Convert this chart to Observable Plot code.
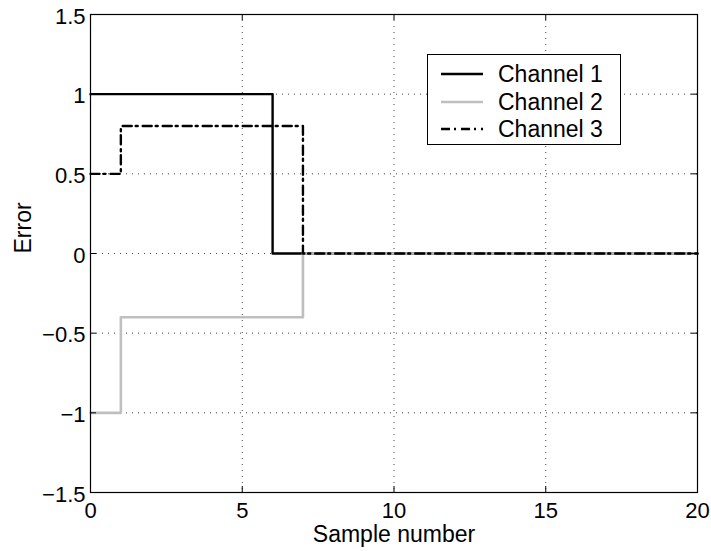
<!DOCTYPE html>
<html>
<head>
<meta charset="utf-8">
<script src="https://cdn.jsdelivr.net/npm/d3@7"></script>
<script src="https://cdn.jsdelivr.net/npm/@observablehq/plot@0.6"></script>
<style>
  html, body { margin: 0; padding: 0; background: #fff; }
  #wrap { position: relative; width: 711px; height: 551px; font-family: "Liberation Sans", Arial, Helvetica, sans-serif; }
  #legend { position: absolute; left: 427px; top: 54px; width: 192px; height: 89px; border: 1px solid #000; background: #fff; box-sizing: content-box; }
  .row { position: absolute; left: 0; height: 28px; display: flex; align-items: center; }
  .row svg { margin-left: 13px; }
  .row span { margin-left: 15px; font-size: 23px; color: #000; line-height: 28px; }
</style>
</head>
<body>
<div id="wrap"></div>
<script>
// ---- data ----
const sampleX  = [0, 1, 6, 7, 20];
const channel1 = [1, 1, 0, 0, 0];
const channel2 = [-1, -0.4, -0.4, 0, 0];
const channel3 = [0.5, 0.8, 0.8, 0, 0];
const seriesNames = ["Channel 1", "Channel 2", "Channel 3"];
const xTicks = [0, 5, 10, 15, 20];
const xTickLabels = ["0", "5", "10", "15", "20"];
const yTicks = [-1.5, -1, -0.5, 0, 0.5, 1, 1.5];
const yTickLabels = ["\u22121.5", "\u22121", "\u22120.5", "0", "0.5", "1", "1.5"];
const xGrid = [5, 10, 15];
const yGrid = [-1, -0.5, 0, 0.5, 1];
const xLabel = "Sample number";
const yLabel = "Error";

// ---- layout ----
const W = 711, H = 551;
const mL = 90, mR = 14, mT = 14, mB = 59;
const innerH = H - mT - mB, innerW = W - mL - mR;
const tickLen = 6;
const font = '"Liberation Sans", Arial, Helvetica, sans-serif';

const toRows = (ys) => sampleX.map((x, i) => ({x, y: ys[i]}));
const styles = [
  {stroke: "#000", strokeWidth: 2.4},
  {stroke: "#bfbfbf", strokeWidth: 2.6},
  {stroke: "#000", strokeWidth: 2.4, strokeDasharray: "9,4,2,5"}
];
const series = [channel1, channel2, channel3];

const xLab = new Map(xTicks.map((t, i) => [t, xTickLabels[i]]));
const yLab = new Map(yTicks.map((t, i) => [t, yTickLabels[i]]));

const chart = Plot.plot({
  width: W, height: H,
  marginLeft: mL, marginRight: mR, marginTop: mT, marginBottom: mB,
  style: {fontFamily: font, background: "#fff", overflow: "visible"},
  x: {domain: [0, 20]},
  y: {domain: [-1.5, 1.5]},
  marks: [
    Plot.gridX(xGrid, {stroke: "#444", strokeOpacity: 1, strokeDasharray: "1,5"}),
    Plot.gridY(yGrid, {stroke: "#444", strokeOpacity: 1, strokeDasharray: "1,5"}),
    ...series.map((s, i) => Plot.line(toRows(s), {x: "x", y: "y", curve: "step-after", ...styles[i]})),
    Plot.frame({stroke: "#000", strokeWidth: 1.2}),
    Plot.tickX(xTicks, {x: d => d, insetTop: innerH - tickLen, stroke: "#000"}),
    Plot.tickX(xTicks, {x: d => d, insetBottom: innerH - tickLen, stroke: "#000"}),
    Plot.tickY(yTicks, {y: d => d, insetRight: innerW - tickLen, stroke: "#000"}),
    Plot.tickY(yTicks, {y: d => d, insetLeft: innerW - tickLen, stroke: "#000"}),
    Plot.axisX(xTicks, {tickSize: 0, tickPadding: 10, fontSize: 22, tickFormat: d => xLab.get(d), label: null, fill: "#000"}),
    Plot.axisY(yTicks, {tickSize: 0, tickPadding: 5, fontSize: 22, dy: 2, tickFormat: d => yLab.get(d), label: null, fill: "#000"}),
    Plot.text([xLabel], {frameAnchor: "bottom", dy: 49, fontSize: 23, fill: "#000", text: d => d}),
    Plot.text([yLabel], {frameAnchor: "left", rotate: -90, dx: -67, fontSize: 23, fill: "#000", text: d => d})
  ]
});

const wrap = document.getElementById("wrap");
wrap.appendChild(chart);

// ---- legend ----
const legend = document.createElement("div");
legend.id = "legend";
const rowCenters = [19, 46.5, 74];
seriesNames.forEach((name, i) => {
  const row = document.createElement("div");
  row.className = "row";
  row.style.top = (rowCenters[i] - 14) + "px";
  const st = styles[i];
  row.innerHTML = `<svg width="42" height="28"><line x1="0" x2="42" y1="14" y2="14" stroke="${st.stroke}" stroke-width="${st.strokeWidth}" ${st.strokeDasharray ? `stroke-dasharray="${st.strokeDasharray}"` : ""}/></svg><span>${name}</span>`;
  legend.appendChild(row);
});
wrap.appendChild(legend);
</script>
</body>
</html>
